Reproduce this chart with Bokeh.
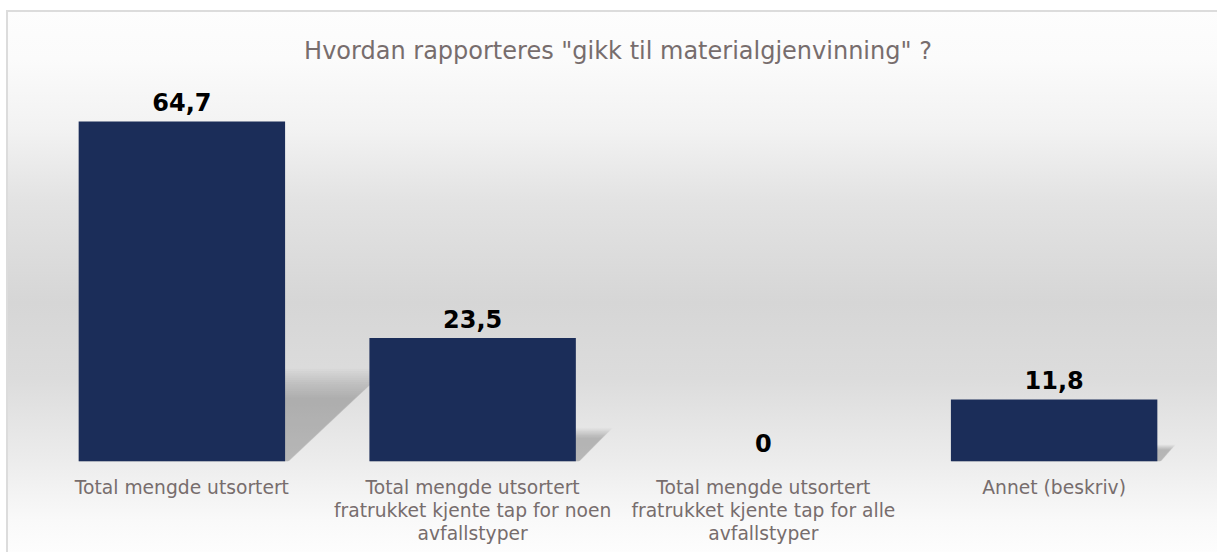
from bokeh.plotting import figure
from bokeh.models import FixedTicker, Range1d, ColumnDataSource, LabelSet
from bokeh.embed import file_html
from bokeh.resources import INLINE
from bokeh.core.properties import value

# ---- data ----
categories = [
    "Total mengde utsortert",
    "Total mengde utsortert\nfratrukket kjente tap for noen\navfallstyper",
    "Total mengde utsortert\nfratrukket kjente tap for alle\navfallstyper",
    "Annet (beskriv)",
]
values = [64.7, 23.5, 0.0, 11.8]
value_labels = ["64,7", "23,5", "0", "11,8"]
title_text = 'Hvordan rapporteres "gikk til materialgjenvinning" ?'

# ---- styles ----
BAR_COLOR = "#1b2d59"
TEXT_GREY = "#776d6d"
FONT = "DejaVu Sans"
BAR_W = 0.71
LINE = "#dcdcdc"

xpos = list(range(len(categories)))

p = figure(
    width=1217, height=552,
    x_range=Range1d(-0.5, len(categories) - 0.5),
    y_range=Range1d(0, 73.45),
    output_backend="svg", toolbar_location=None,
    min_border_left=36, min_border_right=18,
    min_border_top=75, min_border_bottom=91,
)
grad = ("linear-gradient(to bottom, #fdfdfd 0%, #fbfbfb 9%, #f2f2f2 22%, #e3e3e3 35%, "
        "#d6d6d6 54%, #dcdcdc 68%, #ececec 83%, #f9f9f9 94%, #fdfdfd 100%)")
p.styles = {
    "background": (
        f"linear-gradient({LINE},{LINE}) 6px 10px / 2px calc(100% - 10px) no-repeat, "
        f"linear-gradient({LINE},{LINE}) 6px 10px / calc(100% - 6px) 2px no-repeat, "
        f"{grad} 6px 10px / calc(100% - 6px) calc(100% - 10px) no-repeat, #ffffff"
    ),
}
p.border_fill_alpha = 0
p.background_fill_alpha = 0
p.outline_line_color = None
p.grid.visible = False
p.yaxis.visible = False

# title
p.title.text = title_text
p.title.align = "center"
p.title.text_font = FONT
p.title.text_font_size = "24px"
p.title.text_font_style = "normal"
p.title.text_color = TEXT_GREY
p.title.standoff = 21

# x axis with category labels
p.xaxis.ticker = FixedTicker(ticks=xpos)
p.xaxis.major_label_overrides = {i: c for i, c in zip(xpos, categories)}
p.xaxis.axis_line_color = None
p.xaxis.major_tick_line_color = None
p.xaxis.minor_tick_line_color = None
p.xaxis.major_label_standoff = 9
p.xaxis.major_label_text_font = FONT
p.xaxis.major_label_text_font_size = "18.7px"
p.xaxis.major_label_text_color = TEXT_GREY
p.xaxis.major_label_text_line_height = 1.1

# soft perspective shadows (derived from the bar values)
n_layers = 14
for k in range(n_layers):
    f = 0.8 + 0.36 * k / (n_layers - 1)
    xs, ys = [], []
    for x, v in zip(xpos, values):
        h = 0.235 * v * f
        s = 0.0047 * v * f
        xs.append([x - BAR_W / 2, x + BAR_W / 2 + 0.012 * f, x + BAR_W / 2 + s, x - BAR_W / 2 + s])
        ys.append([0, 0, h, h])
    p.patches(xs, ys, fill_color="#000000", fill_alpha=0.016, line_color=None)

# bars
src = ColumnDataSource(dict(x=xpos, top=values, label=value_labels))
p.vbar(x="x", top="top", bottom=0, width=BAR_W, source=src,
       fill_color=BAR_COLOR, line_color=None)

labels = LabelSet(x="x", y="top", text="label", source=src,
                  text_align="center", text_baseline="alphabetic", y_offset=10,
                  text_font=value(FONT), text_font_size="24px",
                  text_font_style="bold", text_color="#000000")
p.add_layout(labels)

open("out.html", "w").write(file_html(p, INLINE))
